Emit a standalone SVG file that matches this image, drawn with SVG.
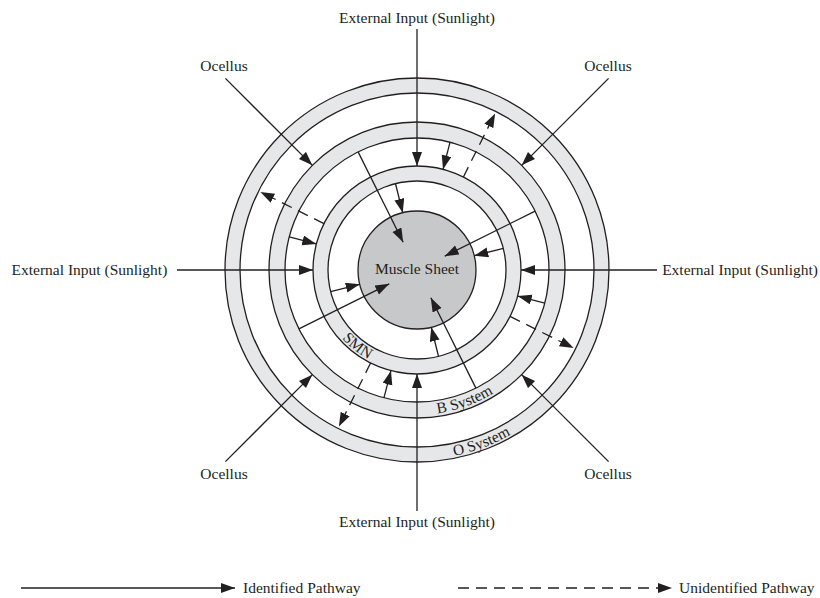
<svg xmlns="http://www.w3.org/2000/svg" width="820" height="598" viewBox="0 0 820 598">
<style>
text{font-family:"Liberation Serif","Times New Roman",serif;font-size:15.5px;fill:#231f20}
.mid{text-anchor:middle}
.ring{fill:#e6e7e8;stroke:#231f20;stroke-width:1.3}
.gap{fill:#ffffff;stroke:#231f20;stroke-width:1.3}
.muscle{fill:#c7c8ca;stroke:#231f20;stroke-width:1.3}
.id{fill:none;stroke:#231f20;stroke-width:1.3;marker-end:url(#ah)}
.un{fill:none;stroke:#231f20;stroke-width:1.3;stroke-dasharray:11 7;marker-end:url(#ah)}
</style>
<defs>
<marker id="ah" markerUnits="userSpaceOnUse" markerWidth="15" markerHeight="11" refX="14" refY="5" orient="auto">
<path d="M0,0 L14,5 L0,10 z" fill="#231f20"/>
</marker>
<path id="pSMN" d="M317.72,291.1 A101.5,101.5 0 0 0 420.54,371.44"/>
<path id="pB" d="M355.72,401.41 A145,145 0 0 0 548.41,331.28"/>
<path id="pO" d="M338.41,442.45 A189.5,189.5 0 0 0 589.45,348.59"/>
</defs>
<rect width="820" height="598" fill="#ffffff"/>

<g id="o-system">
<circle class="ring" cx="417" cy="270" r="192"/>
<circle class="gap" cx="417" cy="270" r="177"/>
<text><textPath href="#pO" startOffset="50%" text-anchor="middle">O System</textPath></text>
</g>
<g id="b-system">
<circle class="ring" cx="417" cy="270" r="148"/>
<circle class="gap" cx="417" cy="270" r="132"/>
<text><textPath href="#pB" startOffset="50%" text-anchor="middle">B System</textPath></text>
</g>
<g id="smn">
<circle class="ring" cx="417" cy="270" r="104"/>
<circle class="gap" cx="417" cy="270" r="89"/>
<text><textPath href="#pSMN" startOffset="50%" text-anchor="middle">SMN</textPath></text>
</g>
<g id="muscle-sheet">
<circle class="muscle" cx="417" cy="270" r="59"/>
<text class="mid" x="417" y="274">Muscle Sheet</text>
</g>

<g id="input-top"><text class="mid" x="417" y="23">External Input (Sunlight)</text></g>
<g id="input-bottom"><text class="mid" x="417" y="527">External Input (Sunlight)</text></g>
<g id="input-left"><text x="11.5" y="275">External Input (Sunlight)</text></g>
<g id="input-right"><text x="818" y="275" text-anchor="end">External Input (Sunlight)</text></g>
<g id="ocellus-tl"><text class="mid" x="224" y="71">Ocellus</text></g>
<g id="ocellus-tr"><text class="mid" x="608" y="71">Ocellus</text></g>
<g id="ocellus-bl"><text class="mid" x="224" y="479">Ocellus</text></g>
<g id="ocellus-br"><text class="mid" x="608" y="479">Ocellus</text></g>

<g id="connectors">
<line class="id" x1="417" y1="29" x2="417" y2="166"/>
<line class="id" x1="417" y1="511" x2="417" y2="374"/>
<line class="id" x1="177" y1="270" x2="313" y2="270"/>
<line class="id" x1="657" y1="270" x2="521" y2="270"/>

<line class="id" x1="225.4" y1="78.4" x2="312.35" y2="165.35"/>
<line class="id" x1="608.6" y1="78.4" x2="521.65" y2="165.35"/>
<line class="id" x1="225.4" y1="461.6" x2="312.35" y2="374.65"/>
<line class="id" x1="608.6" y1="461.6" x2="521.65" y2="374.65"/>

<line class="un" x1="463.4" y1="176.93" x2="495.09" y2="113.4"/>
<line class="un" x1="323.93" y1="223.6" x2="260.4" y2="191.91"/>
<line class="un" x1="370.6" y1="363.07" x2="338.91" y2="426.6"/>
<line class="un" x1="510.07" y1="316.4" x2="573.6" y2="348.09"/>

<line class="id" x1="450.05" y1="142.2" x2="443.04" y2="169.3"/>
<line class="id" x1="289.2" y1="236.95" x2="316.3" y2="243.96"/>
<line class="id" x1="383.95" y1="397.8" x2="390.96" y2="370.7"/>
<line class="id" x1="544.8" y1="303.05" x2="517.7" y2="296.04"/>

<line class="id" x1="395.47" y1="183.64" x2="402.73" y2="212.75"/>
<line class="id" x1="330.64" y1="291.53" x2="359.75" y2="284.27"/>
<line class="id" x1="438.53" y1="356.36" x2="431.27" y2="327.25"/>
<line class="id" x1="503.36" y1="248.47" x2="474.25" y2="255.73"/>

<line class="id" x1="358.1" y1="151.9" x2="403.17" y2="242.26"/>
<line class="id" x1="535.1" y1="211.1" x2="444.74" y2="256.17"/>
<line class="id" x1="298.9" y1="328.9" x2="389.26" y2="283.83"/>
<line class="id" x1="475.9" y1="388.1" x2="430.83" y2="297.74"/>
</g>

<g id="legend">
<line class="id" x1="21" y1="588" x2="235" y2="588"/>
<text x="243" y="593">Identified Pathway</text>
<line class="un" x1="458" y1="588" x2="672" y2="588"/>
<text x="679" y="593">Unidentified Pathway</text>
</g>
</svg>
